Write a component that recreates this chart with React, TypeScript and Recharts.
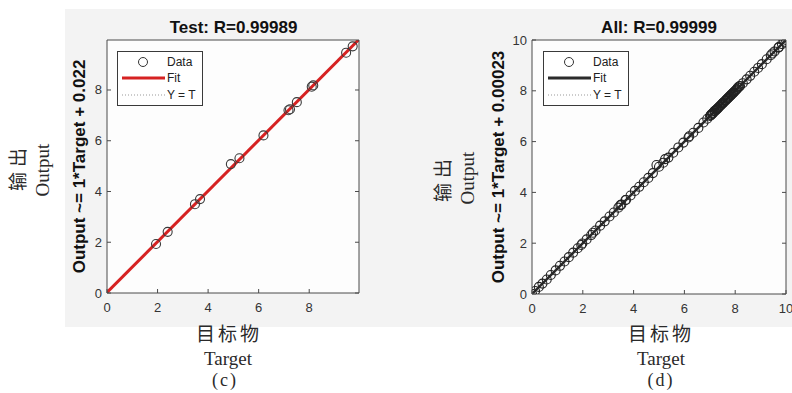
import React from "react";
import { ScatterChart, Scatter, XAxis, YAxis, ReferenceLine, Legend, CartesianGrid } from "recharts";

// Test subset: target vs. network output
const testTarget = [1.94, 2.4, 3.48, 3.68, 4.9, 5.24, 6.19, 7.18, 7.24, 7.51, 8.1, 8.16, 9.46, 9.72];
const testOutput = [1.93, 2.41, 3.5, 3.7, 5.08, 5.31, 6.21, 7.2, 7.24, 7.52, 8.13, 8.18, 9.47, 9.72];

// All samples
const allTarget = [
  0, 0.12, 0.27, 0.41, 0.58, 0.74, 0.93, 1.1, 1.28, 1.45,
  1.62, 1.8, 1.94, 1.98, 2.15, 2.33, 2.4, 2.5, 2.68, 2.86,
  3.05, 3.22, 3.4, 3.48, 3.52, 3.68, 3.7, 3.88, 4.05, 4.22,
  4.4, 4.58, 4.76, 4.9, 5.0, 5.17, 5.24, 5.37, 5.56, 5.76,
  5.96, 6.16, 6.19, 6.35, 6.55, 6.75, 6.9,
  7.01, 7.04, 7.05, 7.09, 7.11, 7.14, 7.18, 7.2, 7.24, 7.26,
  7.3, 7.31, 7.35, 7.38, 7.41, 7.44, 7.46, 7.5, 7.51, 7.52,
  7.55, 7.59, 7.62, 7.64, 7.68, 7.71, 7.73, 7.77, 7.8, 7.83,
  7.85, 7.89, 7.92, 7.94, 7.98, 8.01, 8.04, 8.07, 8.1, 8.13,
  8.16, 8.19,
  8.3, 8.45, 8.59, 8.75, 8.9, 9.05, 9.24, 9.4, 9.46, 9.55,
  9.7, 9.72, 9.84, 9.93, 10.0,
];
const allOutput = [
  0.01, 0.12, 0.28, 0.41, 0.57, 0.75, 0.93, 1.11, 1.28, 1.45,
  1.63, 1.8, 1.93, 1.99, 2.15, 2.32, 2.41, 2.5, 2.69, 2.86,
  3.05, 3.21, 3.4, 3.5, 3.52, 3.7, 3.7, 3.88, 4.06, 4.22,
  4.4, 4.57, 4.76, 5.08, 5.01, 5.17, 5.31, 5.37, 5.56, 5.77,
  5.96, 6.16, 6.21, 6.35, 6.54, 6.75, 6.9,
  7.01, 7.04, 7.06, 7.09, 7.11, 7.14, 7.2, 7.2, 7.24, 7.26,
  7.3, 7.31, 7.35, 7.38, 7.41, 7.44, 7.46, 7.5, 7.52, 7.52,
  7.55, 7.59, 7.62, 7.64, 7.68, 7.71, 7.73, 7.77, 7.8, 7.83,
  7.85, 7.89, 7.92, 7.94, 7.98, 8.01, 8.04, 8.07, 8.13, 8.13,
  8.18, 8.19,
  8.3, 8.45, 8.59, 8.75, 8.9, 9.05, 9.24, 9.4, 9.47, 9.55,
  9.7, 9.72, 9.84, 9.93, 10.0,
];

const testTicks = [0, 2, 4, 6, 8];
const allTicks = [0, 2, 4, 6, 8, 10];

const SANS = "'Liberation Sans', Arial, Helvetica, sans-serif";
const SERIF = "'Liberation Serif', 'DejaVu Serif', 'Noto Sans CJK SC', serif";
const AXIS = "#4a4a4a";
const TICK_TEXT = "#333";

const BottomTick = (props: any) => {
  const { x, y, payload } = props;
  return (
    <g>
      <line x1={x} y1={y} x2={x} y2={y - 4} stroke={AXIS} />
      <text x={x} y={y + 19} textAnchor="middle" fontSize={13} fill={TICK_TEXT} fontFamily={SANS}>
        {payload.value}
      </text>
    </g>
  );
};

const TopTick = (props: any) => {
  const { x, y } = props;
  return <line x1={x} y1={y} x2={x} y2={y + 4} stroke={AXIS} />;
};

const LeftTick = (props: any) => {
  const { x, y, payload } = props;
  return (
    <g>
      <line x1={x} y1={y} x2={x + 4} y2={y} stroke={AXIS} />
      <text x={x - 5} y={y + 4.5} textAnchor="end" fontSize={13} fill={TICK_TEXT} fontFamily={SANS}>
        {payload.value}
      </text>
    </g>
  );
};

const RightTick = (props: any) => {
  const { x, y } = props;
  return <line x1={x} y1={y} x2={x - 4} y2={y} stroke={AXIS} />;
};

const LegendBox = ({ fitColor }: { fitColor: string }) => (
  <svg width={86} height={55} style={{ display: "block" }}>
    <rect x={0.5} y={0.5} width={85} height={54} fill="#fff" stroke="#3a3a3a" />
    <circle cx={26} cy={11} r={4.5} fill="none" stroke="#333" />
    <text x={50} y={15} fontSize={12} fontFamily={SANS} fill="#222">Data</text>
    <line x1={5} y1={27} x2={48} y2={27} stroke={fitColor} strokeWidth={3} />
    <text x={50} y={31} fontSize={12} fontFamily={SANS} fill="#222">Fit</text>
    <line x1={5} y1={44} x2={48} y2={44} stroke="#999" strokeDasharray="1 2" />
    <text x={50} y={48} fontSize={12} fontFamily={SANS} fill="#222">Y = T</text>
  </svg>
);

type PanelProps = {
  width: number;
  margin: { top: number; right: number; bottom: number; left: number };
  targets: number[];
  outputs: number[];
  max: number;
  ticks: number[];
  intercept: number;
  fitColor: string;
  fitWidth: number;
  markColor: string;
  legendLeft: number;
};

const Panel = ({ width, margin, targets, outputs, max, ticks, intercept, fitColor, fitWidth, markColor, legendLeft }: PanelProps) => {
  const data = targets.map((t, i) => ({ target: t, output: outputs[i] }));
  const ring = (p: any) => <circle cx={p.cx} cy={p.cy} r={4.5} fill="none" stroke={markColor} strokeWidth={1.1} />;
  return (
    <ScatterChart width={width} height={393} margin={margin}>
      <CartesianGrid xAxisId="x" yAxisId="y" horizontal={false} vertical={false} fill="#fdfdfd" />
      <XAxis xAxisId="x" dataKey="target" type="number" domain={[0, max]} ticks={ticks} allowDataOverflow interval={0}
        height={30} tickSize={0} tickMargin={0} tickLine={false} axisLine={{ stroke: AXIS }} tick={BottomTick} />
      <XAxis xAxisId="t" orientation="top" type="number" domain={[0, max]} ticks={ticks} allowDataOverflow interval={0}
        height={10} tickSize={0} tickMargin={0} tickLine={false} axisLine={{ stroke: AXIS }} tick={TopTick} />
      <YAxis yAxisId="y" dataKey="output" type="number" domain={[0, max]} ticks={ticks} allowDataOverflow interval={0}
        width={40} tickSize={0} tickMargin={0} tickLine={false} axisLine={{ stroke: AXIS }} tick={LeftTick} />
      <YAxis yAxisId="r" orientation="right" type="number" domain={[0, max]} ticks={ticks} allowDataOverflow interval={0}
        width={4} tickSize={0} tickMargin={0} tickLine={false} axisLine={{ stroke: AXIS }} tick={RightTick} />
      <ReferenceLine xAxisId="x" yAxisId="y" segment={[{ x: 0, y: 0 }, { x: max, y: max }]}
        stroke="#999" strokeDasharray="1 2" ifOverflow="hidden" />
      <ReferenceLine xAxisId="x" yAxisId="y" segment={[{ x: 0, y: intercept }, { x: max, y: max + intercept }]}
        stroke={fitColor} strokeWidth={fitWidth} ifOverflow="hidden" />
      <Scatter xAxisId="x" yAxisId="y" data={data} shape={ring} isAnimationActive={false} />
      <Legend layout="vertical" align="center" verticalAlign="middle"
        wrapperStyle={{ left: legendLeft, top: 51, width: 86, height: 55 }}
        content={() => <LegendBox fitColor={fitColor} />} />
    </ScatterChart>
  );
};

export default function App() {
  const rotated = (x: number, y: number) => `translate(${x},${y}) rotate(-90)`;
  return (
    <div style={{ position: "absolute", left: 0, top: 0, width: 792, height: 393, background: "#fff", overflow: "hidden" }}>
      <div style={{ position: "absolute", left: 65, top: 9, width: 727, height: 318, background: "#f3f3f3" }} />
      <svg width={792} height={393} style={{ position: "absolute", left: 0, top: 0 }}>
        {/* panel titles and fitted-equation labels */}
        <text x={233.5} y={33} textAnchor="middle" fontSize={17} fontWeight="bold" fontFamily={SANS} fill="#111">Test: R=0.99989</text>
        <text x={659} y={33} textAnchor="middle" fontSize={17} fontWeight="bold" fontFamily={SANS} fill="#111">All: R=0.99999</text>
        <text transform={rotated(79, 166.5)} dy="0.36em" textAnchor="middle" fontSize={17} fontWeight="bold" fontFamily={SANS} fill="#111">
          Output ~= 1*Target + 0.022
        </text>
        <text transform={rotated(498, 167)} dy="0.36em" textAnchor="middle" fontSize={17} fontWeight="bold" fontFamily={SANS} fill="#111">
          Output ~= 1*Target + 0.00023
        </text>

        {/* outer captions */}
        <g fontFamily={SERIF} fill="#2a2a2a" fontSize={19}>
          <text transform={rotated(18.5, 167)} dy="0.36em" textAnchor="middle" letterSpacing={5}>输出</text>
          <text transform={rotated(42, 170)} dy="0.36em" textAnchor="middle">Output</text>
          <text transform={rotated(443, 178)} dy="0.36em" textAnchor="middle" letterSpacing={5}>输出</text>
          <text transform={rotated(467, 178)} dy="0.36em" textAnchor="middle">Output</text>

          <text x={229} y={334} dy="0.36em" textAnchor="middle" letterSpacing={3}>目标物</text>
          <text x={228} y={358} dy="0.36em" textAnchor="middle">Target</text>
          <text x={225} y={380} dy="0.36em" textAnchor="middle" letterSpacing={2} fontSize={18}>(c)</text>
          <text x={661} y={334} dy="0.36em" textAnchor="middle" letterSpacing={3}>目标物</text>
          <text x={661} y={358} dy="0.36em" textAnchor="middle">Target</text>
          <text x={661} y={380} dy="0.36em" textAnchor="middle" letterSpacing={2} fontSize={18}>(d)</text>
        </g>
      </svg>
      <div style={{ position: "absolute", left: 0, top: 0 }}>
        <Panel width={400} margin={{ top: 30, right: 37, bottom: 70, left: 67 }}
          targets={testTarget} outputs={testOutput} max={9.97} ticks={testTicks}
          intercept={0.022} fitColor="#d62222" fitWidth={3} markColor="#3a3a3a" legendLeft={117} />
      </div>
      <div style={{ position: "absolute", left: 400, top: 0 }}>
        <Panel width={392} margin={{ top: 30, right: 2, bottom: 69, left: 92 }}
          targets={allTarget} outputs={allOutput} max={10} ticks={allTicks}
          intercept={0.00023} fitColor="#2b2b2b" fitWidth={2.5} markColor="#222" legendLeft={143} />
      </div>
    </div>
  );
}
